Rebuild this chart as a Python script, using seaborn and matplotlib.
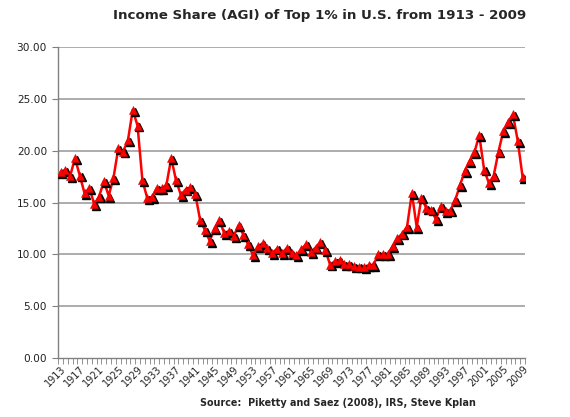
import numpy as np
import pandas as pd
import matplotlib
matplotlib.use("Agg")
import matplotlib.pyplot as plt
import matplotlib.transforms as mtransforms
from matplotlib.ticker import FixedLocator, MultipleLocator, FormatStrFormatter
import seaborn as sns

years = list(range(1913, 2010))
share = [17.96, 18.16, 17.58, 19.27, 17.60, 15.88, 16.40, 14.83, 15.58, 17.05,
         15.66, 17.38, 20.24, 19.92, 21.00, 23.94, 22.42, 17.17, 15.45, 15.51,
         16.39, 16.36, 16.71, 19.29, 17.13, 15.74, 16.26, 16.46, 15.79, 13.32,
         12.34, 11.30, 12.51, 13.28, 12.07, 12.24, 11.78, 12.82, 11.88, 10.96,
         9.91, 10.76, 11.07, 10.59, 10.14, 10.55, 10.12, 10.60, 10.10, 9.90,
         10.48, 10.97, 10.23, 10.66, 11.18, 10.44, 9.01, 9.32, 9.48, 9.07,
         9.08, 8.90, 8.82, 8.79, 8.95, 8.94, 10.03, 10.02, 10.03, 10.80,
         11.56, 12.00, 12.67, 15.92, 12.64, 15.48, 14.45, 14.33, 13.38, 14.67,
         14.21, 14.23, 15.23, 16.67, 18.06, 19.03, 19.84, 21.52, 18.19, 16.87,
         17.60, 19.92, 21.90, 22.77, 23.50, 20.95, 17.48]
tick_years = list(range(1913, 2010, 4))

df = pd.DataFrame({"year": years, "share": share})

sns.set_style("white")
plt.rcParams['font.family'] = ['DejaVu Sans']

fig = plt.figure(figsize=(5.7, 4.17), dpi=100)
ax = fig.add_axes([0.102, 0.1415, 0.819, 0.7455])

# grid
for v in np.arange(5, 31, 5):
    ax.axhline(v, color="#a6a6a6", lw=1.3, zorder=0)

sns.lineplot(data=df, x="year", y="share", color="#ff0000", lw=1.8, ax=ax, zorder=2)

# black shadow triangles, offset down/right
shadow = mtransforms.offset_copy(ax.transData, fig=fig, x=1.3, y=-1.3, units="points")
ax.plot(df["year"], df["share"], ls="none", marker="^", ms=5.2, color="black",
        transform=shadow, zorder=3)
ax.plot(df["year"], df["share"], ls="none", marker="^", ms=5.2, color="#ff0000",
        markeredgecolor="#dd0000", markeredgewidth=0.4, zorder=4)

ax.set_xlim(1912.5, 2009.5)
ax.set_ylim(0, 30)
ax.set_xlabel("")
ax.set_ylabel("")

ax.yaxis.set_major_locator(MultipleLocator(5))
ax.yaxis.set_major_formatter(FormatStrFormatter("%.2f"))
ax.xaxis.set_major_locator(FixedLocator(tick_years))
ax.xaxis.set_minor_locator(FixedLocator([y + 0.5 for y in range(1912, 2010)]))
ax.set_xticklabels([str(y) for y in tick_years], rotation=45, ha="right",
                   rotation_mode="anchor", fontsize=7)
ax.tick_params(axis="y", labelsize=7.6, length=4, color="#808080", direction="out",
               left=True, pad=4, labelcolor="#222222")
ax.tick_params(axis="x", which="major", length=0, pad=4, labelcolor="#222222")
ax.tick_params(axis="x", which="minor", length=4, color="#808080", direction="out", bottom=True)

for s in ["top", "right"]:
    ax.spines[s].set_visible(False)
for s in ["left", "bottom"]:
    ax.spines[s].set_color("#808080")
    ax.spines[s].set_linewidth(1)

fig.text(320 / 570, 1 - 16 / 417, "Income Share (AGI) of Top 1% in U.S. from 1913 - 2009",
         ha="center", va="center", fontsize=9.6, fontweight="bold")
fig.text(338 / 570, 1 - 403 / 417, "Source:  Piketty and Saez (2008), IRS, Steve Kplan",
         ha="center", va="center", fontsize=6.9, fontweight="bold")

fig.savefig("out.png", dpi=100)
